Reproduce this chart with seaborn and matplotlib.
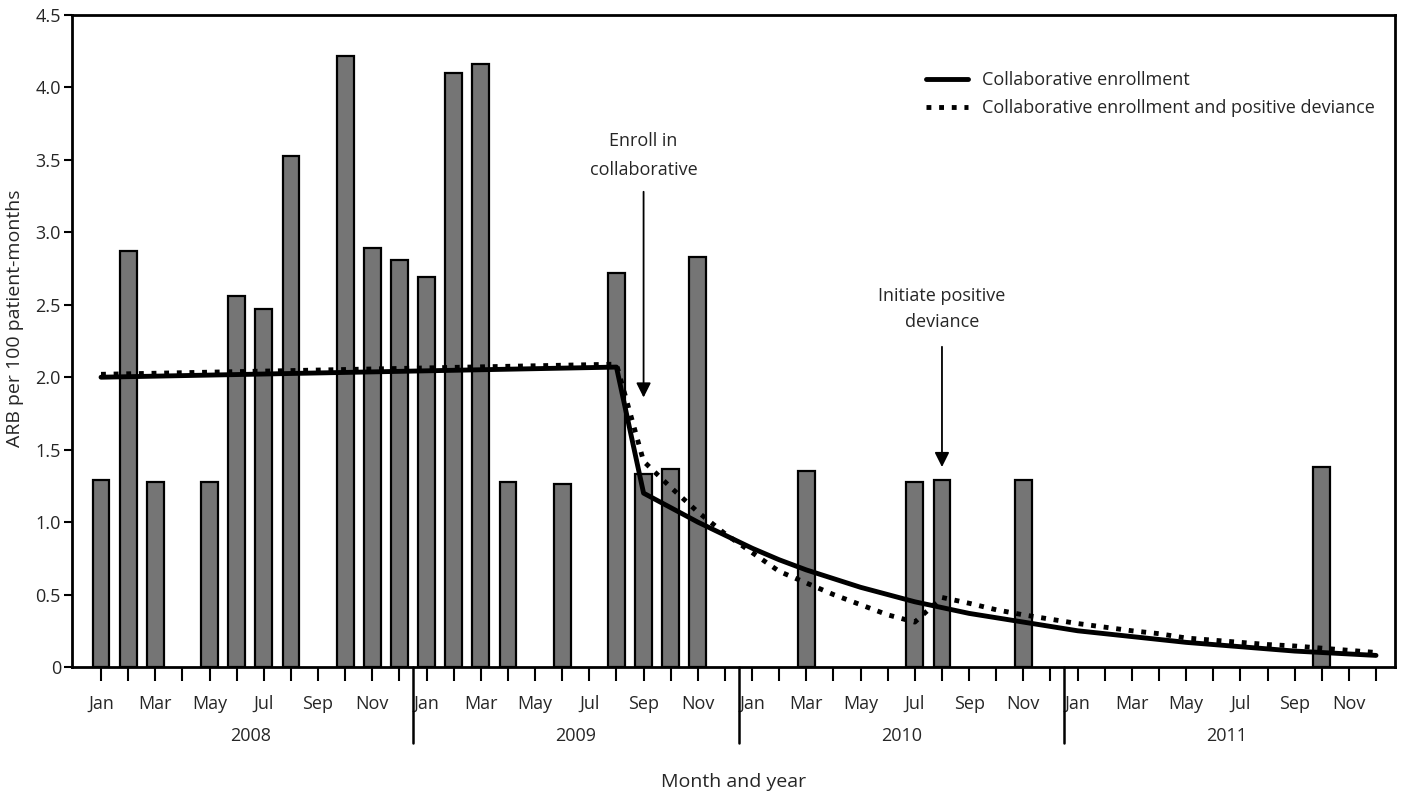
import numpy as np
import pandas as pd
import matplotlib
matplotlib.use('Agg')
import matplotlib.pyplot as plt
import matplotlib.transforms as mtransforms
import seaborn as sns

# 월(0 = 2008년 1월)별 값
month_names = ['Jan', 'Feb', 'Mar', 'Apr', 'May', 'Jun',
               'Jul', 'Aug', 'Sep', 'Oct', 'Nov', 'Dec']
years = ['2008', '2009', '2010', '2011']

bar_month = [0, 1, 2, 4, 5, 6, 7, 9, 10, 11, 12, 13, 14, 15, 17,
             19, 20, 21, 22, 26, 30, 31, 34, 45]
bar_value = [1.29, 2.87, 1.28, 1.28, 2.56, 2.47, 3.53, 4.22, 2.89, 2.81, 2.69, 4.10, 4.16, 1.28, 1.26,
             2.72, 1.33, 1.37, 2.83, 1.35, 1.28, 1.29, 1.29, 1.38]

# Collaborative enrollment (실선)
solid_month = [0, 19, 20, 21, 22, 23, 24, 25, 26, 27, 28, 29, 30, 31, 32, 33,
               34, 35, 36, 37, 38, 39, 40, 41, 42, 43, 44, 45, 46, 47]
solid_value = [2.00, 2.07, 1.20, 1.10, 1.00, 0.91, 0.82, 0.74, 0.67, 0.61, 0.55, 0.50, 0.45, 0.41, 0.37, 0.34,
               0.31, 0.28, 0.25, 0.23, 0.21, 0.19, 0.17, 0.155, 0.14, 0.125, 0.11, 0.10, 0.09, 0.08]

# Collaborative enrollment and positive deviance (점선)
dot_month = [0, 19, 20, 21, 22, 23, 24, 25, 26, 27, 28, 29, 30, 31, 32, 33,
             34, 35, 36, 37, 38, 39, 40, 41, 42, 43, 44, 45, 46, 47]
dot_value = [2.02, 2.09, 1.42, 1.24, 1.07, 0.92, 0.79, 0.66, 0.58, 0.50, 0.43, 0.36, 0.31, 0.48, 0.44, 0.395,
             0.36, 0.33, 0.30, 0.275, 0.25, 0.23, 0.20, 0.185, 0.17, 0.155, 0.145, 0.13, 0.115, 0.10]

sns.set_style('white')
plt.rcParams['font.family'] = ['Open Sans', 'DejaVu Sans']

fig = plt.figure(figsize=(14.02, 7.94), dpi=100)
ax = fig.add_axes([72 / 1402, 1 - 667 / 794, 1323 / 1402, 652 / 794])

bars = pd.DataFrame({'month': bar_month, 'value': bar_value})
sns.barplot(data=bars, x='month', y='value', native_scale=True, width=0.62,
            color='#757575', edgecolor='black', linewidth=1.6, saturation=1, ax=ax, zorder=2)

sns.lineplot(x=solid_month, y=solid_value, color='black', lw=3.5, sort=False,
             label='Collaborative enrollment', ax=ax, zorder=4)
sns.lineplot(x=dot_month, y=dot_value, color='black', lw=3.5, sort=False, linestyle=(0, (1, 1.6)),
             label='Collaborative enrollment and positive deviance', ax=ax, zorder=5)

ax.set_xlim(-1.07, 47.7)
ax.set_ylim(0, 4.5)

# 축
ax.set_yticks(np.arange(0, 4.51, 0.5))
ax.set_yticklabels(['0'] + ['%.1f' % v for v in np.arange(0.5, 4.51, 0.5)])
ax.set_xticks(range(48))
ax.set_xticklabels([month_names[i % 12] if i % 2 == 0 else '' for i in range(48)])
ax.tick_params(axis='x', length=10, width=1.5, pad=10, labelsize=13, direction='out', color='black')
ax.tick_params(axis='y', length=6, width=1.5, pad=2, labelsize=13, direction='out', color='black')
ax.tick_params(bottom=True, left=True)
for s in ax.spines.values():
    s.set_color('black')
    s.set_linewidth(2)

ax.set_xlabel('Month and year', fontsize=14)
ax.xaxis.set_label_coords(0.5, -0.162)
ax.set_ylabel('ARB per 100 patient-months', fontsize=14)
ax.yaxis.set_label_coords(-0.036, 0.535)

# 연도 라벨과 구분선
trans = mtransforms.blended_transform_factory(ax.transData, ax.transAxes)
for i, yr in enumerate(years):
    ax.text(i * 12 + 5.5, -0.106, yr, transform=trans, ha='center', va='center', fontsize=13)
for b in [11.5, 23.5, 35.5]:
    ax.plot([b, b], [0, -0.117], transform=trans, color='black', lw=1.8, clip_on=False)

# 주석
arrow = dict(arrowstyle='-|>', color='black', lw=1.3, mutation_scale=22, shrinkA=0, shrinkB=0)
ax.annotate('', xy=(20, 1.86), xytext=(20, 3.28), arrowprops=arrow, zorder=6)
ax.text(20, 3.53, 'Enroll in\ncollaborative', ha='center', va='center', fontsize=13, linespacing=1.75)
ax.annotate('', xy=(31, 1.38), xytext=(31, 2.21), arrowprops=arrow, zorder=6)
ax.text(31, 2.47, 'Initiate positive\ndeviance', ha='center', va='center', fontsize=13, linespacing=1.6)

ax.legend(loc='upper left', bbox_to_anchor=((926 - 72) / 1323, (667 - 71) / 652),
          frameon=False, fontsize=13, handlelength=2.3, handletextpad=0.8,
          labelspacing=0.55, borderpad=0, borderaxespad=0)

fig.savefig('out.png', dpi=100)
